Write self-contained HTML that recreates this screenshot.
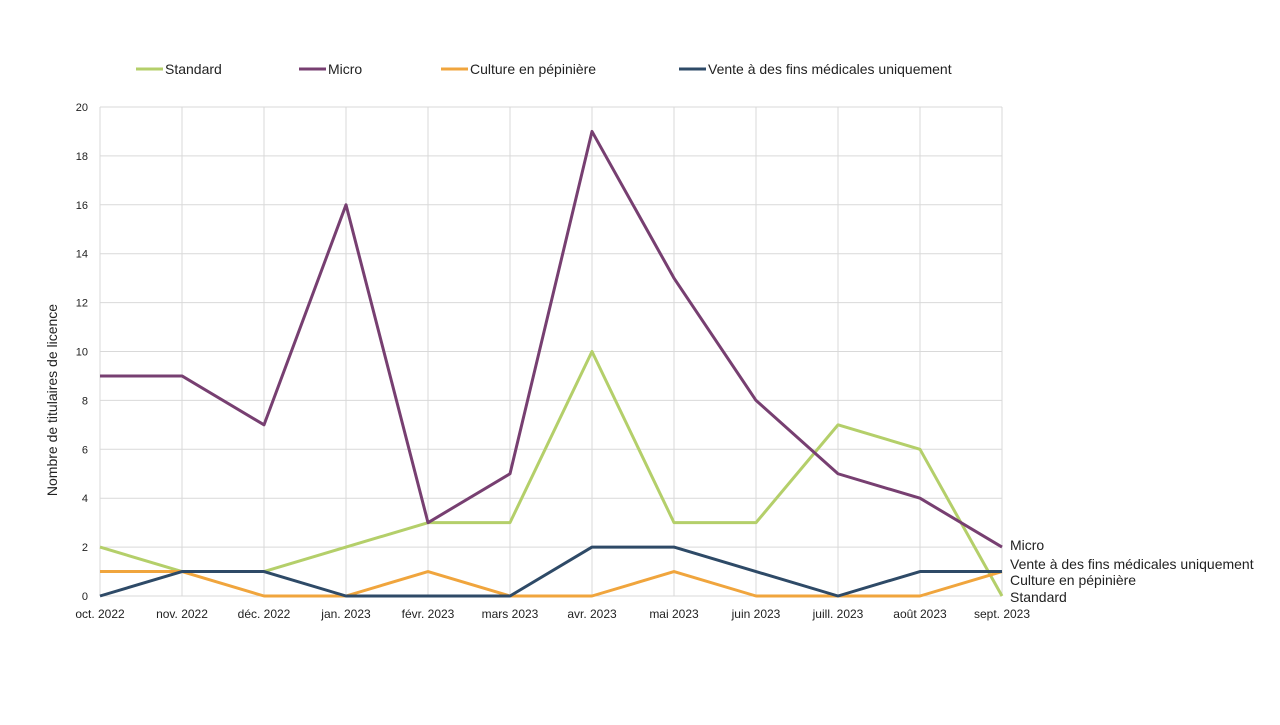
<!DOCTYPE html>
<html><head><meta charset="utf-8"><style>
body{margin:0;background:#fff;font-family:"Liberation Sans",sans-serif;}
svg text{font-family:"Liberation Sans",sans-serif;fill:#222;}
</style></head><body>
<svg id="chart" width="1280" height="720">
<g id="grid"></g><g id="series"></g><g id="labels"></g>
<g id="legend"></g>
<text x="57" y="400" font-size="14" text-anchor="middle" transform="rotate(-90 57 400)">Nombre de titulaires de licence</text>
</svg>
<script>
const categories=["oct. 2022","nov. 2022","déc. 2022","jan. 2023","févr. 2023","mars 2023","avr. 2023","mai 2023","juin 2023","juill. 2023","août 2023","sept. 2023"];
const standard=[2,1,1,2,3,3,10,3,3,7,6,0];
const micro=[9,9,7,16,3,5,19,13,8,5,4,2];
const culture=[1,1,0,0,1,0,0,1,0,0,0,1];
const vente=[0,1,1,0,0,0,2,2,1,0,1,1];
const yTicks=[0,2,4,6,8,10,12,14,16,18,20];
const seriesNames=["Standard","Micro","Culture en pépinière","Vente à des fins médicales uniquement"];
const colors=["#b4cf6a","#773f71","#f0a53d","#2e4a67"];
const NS="http://www.w3.org/2000/svg";
const x0=100,x1=1002,y0=596,y1=107;
const xs=i=>x0+i*(x1-x0)/(categories.length-1);
const ys=v=>y0-(v/20)*(y0-y1);
function mk(t,a,p){const e=document.createElementNS(NS,t);for(const k in a)e.setAttribute(k,a[k]);p.appendChild(e);return e;}
const grid=document.getElementById('grid'),lab=document.getElementById('labels');
yTicks.forEach(v=>{
 const l=mk('line',{x1:x0,x2:x1,y1:ys(v),y2:ys(v),stroke:'#d9d9d9'},grid);
 
 
 const t=mk('text',{x:88,y:ys(v)+4,'font-size':11,'text-anchor':'end'},lab);t.textContent=v;
 
 
});
categories.forEach((c,i)=>{
 const l=mk('line',{x1:xs(i),x2:xs(i),y1:y1,y2:y0,stroke:'#d9d9d9'},grid);
 
 
 const t=mk('text',{x:xs(i),y:618,'font-size':12,'text-anchor':'middle'},lab);t.textContent=c;
 
 
});
const data=[standard,micro,culture,vente];
const sg=document.getElementById('series');
data.forEach((d,s)=>{
 const p=mk('polyline',{points:d.map((v,i)=>xs(i)+','+ys(v)).join(' '),fill:'none',stroke:colors[s],'stroke-width':3,'stroke-linejoin':'round'},sg);
 
 
});
const endY=[597,545,580,564];
data.forEach((d,s)=>{
 const t=mk('text',{x:1010,y:endY[s]+5,'font-size':14},lab);t.textContent=seriesNames[s];
 
 
});
const lg=document.getElementById('legend');
const lx=[136,299,441,679];
seriesNames.forEach((n,s)=>{
 const l=mk('line',{x1:lx[s],x2:lx[s]+27,y1:69,y2:69,stroke:colors[s],'stroke-width':3},lg);
 
 
 const t=mk('text',{x:lx[s]+29,y:74,'font-size':14},lg);t.textContent=n;
 
 
});
</script>
</body></html>
